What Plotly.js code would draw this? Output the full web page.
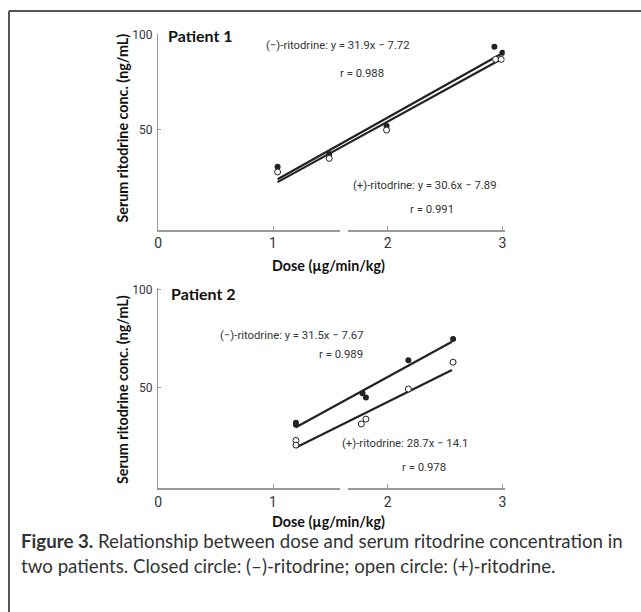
<!DOCTYPE html>
<html>
<head>
<meta charset="utf-8">
<script src="https://cdn.plot.ly/plotly-3.0.1.min.js"></script>
<style>html,body{margin:0;padding:0;background:#fff;}#chart{width:641px;height:612px;}</style>
</head>
<body>
<div id="chart"></div>
<script>
// ---- Data ----
const xTickVals = [0, 1, 2, 3];
const xTickText = ["0", "1", "2", "3"];
const yTickVals = [50, 100];
const yTickText = ["50", "100"];

// Patient 1
const p1DoseMinus = [1.04, 1.49, 1.99, 2.93, 3.0];
const p1ConcMinus = [30.2, 36.9, 51.7, 93.8, 90.6];
const p1DosePlus  = [1.04, 1.49, 1.99, 2.94, 2.99];
const p1ConcPlus  = [27.4, 34.6, 49.6, 87.1, 87.1];
const p1FitDose   = [1.04, 3.0];
const p1FitMinus  = [23.5, 90.3];
const p1FitPlus   = [22.0, 87.6];

// Patient 2
const p2DoseMinus = [1.2, 1.2, 1.78, 1.81, 2.18, 2.57];
const p2ConcMinus = [32.0, 31.0, 47.1, 45.0, 64.0, 74.9];
const p2DosePlus  = [1.2, 1.2, 1.77, 1.81, 2.18, 2.57];
const p2ConcPlus  = [23.0, 20.6, 31.4, 33.9, 49.3, 63.0];
const p2FitDose   = [1.2, 2.56];
const p2FitMinus  = [29.7, 73.5];
const p2FitPlus   = [19.4, 59.0];

const W = 641, H = 612;
const px = v => v / W;
const py = v => 1 - v / H;

const narrow = "Roboto, DejaVu Sans Condensed, sans-serif";
const human = "Lato, Open Sans, sans-serif";
const ink = "#222";

function closed(x, y, xa, ya) {
  return {x, y, xaxis: xa, yaxis: ya, type: "scatter", mode: "markers",
    marker: {size: 6, color: ink, symbol: "circle"}, hoverinfo: "skip", showlegend: false};
}
function open(x, y, xa, ya) {
  return {x, y, xaxis: xa, yaxis: ya, type: "scatter", mode: "markers",
    marker: {size: 6, color: "#fff", symbol: "circle", line: {color: ink, width: 1}}, hoverinfo: "skip", showlegend: false};
}
function fit(x, y, xa, ya) {
  return {x, y, xaxis: xa, yaxis: ya, type: "scatter", mode: "lines",
    line: {color: ink, width: 2.2}, hoverinfo: "skip", showlegend: false};
}

const data = [
  fit(p1FitDose, p1FitMinus, "x", "y"),
  fit(p1FitDose, p1FitPlus, "x", "y"),
  closed(p1DoseMinus, p1ConcMinus, "x", "y"),
  open(p1DosePlus, p1ConcPlus, "x", "y"),
  fit(p2FitDose, p2FitMinus, "x2", "y2"),
  fit(p2FitDose, p2FitPlus, "x2", "y2"),
  closed(p2DoseMinus, p2ConcMinus, "x2", "y2"),
  open(p2DosePlus, p2ConcPlus, "x2", "y2")
];

function xAxis(anchor, domain) {
  return {domain, anchor, range: [0, 3.02], showgrid: false, zeroline: false,
    showline: true, linecolor: "#999", linewidth: 1.5,
    tickvals: xTickVals, ticktext: xTickText, ticks: "inside", ticklen: 4, tickcolor: "#999",
    tickfont: {family: narrow, size: 14, color: "#333"}, fixedrange: true};
}
function yAxis(anchor, domain, range) {
  return {domain, anchor, range, showgrid: false, zeroline: false,
    showline: true, linecolor: "#999", linewidth: 1.5,
    tickvals: yTickVals, ticktext: yTickText, ticks: "inside", ticklen: 3, tickcolor: "#999",
    ticklabelstandoff: 2,
    tickfont: {family: narrow, size: 12, color: "#333"}, fixedrange: true};
}

const xDom = [px(158.3), px(504.7)];
const layout = {
  width: W, height: H,
  margin: {l: 0, r: 0, t: 0, b: 0},
  paper_bgcolor: "#fff", plot_bgcolor: "rgba(0,0,0,0)",
  showlegend: false,
  xaxis: xAxis("y", xDom),
  yaxis: yAxis("x", [py(230), py(34.1)], [-3.4, 100.5]),
  xaxis2: xAxis("y2", xDom),
  yaxis2: yAxis("x2", [py(488.3), py(288.3)], [-1.5, 100.8]),
  shapes: [
    {type: "line", xref: "paper", yref: "paper", x0: px(9), x1: 1, y0: py(11), y1: py(11), line: {color: "#555", width: 2}},
    {type: "line", xref: "paper", yref: "paper", x0: px(9), x1: px(9), y0: py(11), y1: 0, line: {color: "#555", width: 2}},
    {type: "rect", xref: "paper", yref: "paper", x0: px(340), x1: px(348), y0: py(233), y1: py(227), fillcolor: "#fff", line: {width: 0}, layer: "above"},
    {type: "rect", xref: "paper", yref: "paper", x0: px(340), x1: px(348), y0: py(491), y1: py(485), fillcolor: "#fff", line: {width: 0}, layer: "above"}
  ],
  annotations: []
};

function note(text, x, y, font, opts) {
  layout.annotations.push(Object.assign({text, xref: "paper", yref: "paper", x: px(x), y: py(y),
    xanchor: "center", yanchor: "middle", showarrow: false, borderpad: 0, font}, opts || {}));
}
const eqFont = {family: narrow, size: 11.3, color: "#333"};
const titleFont = {family: human, size: 14.3, color: "#111"};

// Panel 1
note("<b>Patient 1</b>", 200, 35, {family: human, size: 16, color: "#111"});
note("(−)-ritodrine: y = 31.9x − 7.72", 338, 46, eqFont);
note("r = 0.988", 362, 73, eqFont);
note("(+)-ritodrine: y = 30.6x − 7.89", 425, 185, eqFont);
note("r = 0.991", 432, 209, eqFont);
note("<b>Serum ritodrine conc. (ng/mL)</b>", 122, 128.5, titleFont, {textangle: -90});
note("<b>Dose (µg/min/kg)</b>", 328, 265, titleFont);

// Panel 2
note("<b>Patient 2</b>", 203, 293.5, {family: human, size: 16, color: "#111"});
note("(−)-ritodrine: y = 31.5x − 7.67", 292, 335, eqFont);
note("r = 0.989", 341, 354.5, eqFont);
note("(+)-ritodrine: 28.7x − 14.1", 404.5, 443.5, eqFont);
note("r = 0.978", 424, 468, eqFont);
note("<b>Serum ritodrine conc. (ng/mL)</b>", 122, 390, titleFont, {textangle: -90});
note("<b>Dose (µg/min/kg)</b>", 328, 521, titleFont);

// Caption
note("<b>Figure 3.</b> Relationship between dose and serum ritodrine concentration in", 20, 541,
  {family: human, size: 18.7, color: "#333"}, {xanchor: "left"});
note("two patients. Closed circle: (–)-ritodrine; open circle: (+)-ritodrine.", 20, 566,
  {family: human, size: 18.7, color: "#333"}, {xanchor: "left"});

Plotly.newPlot("chart", data, layout, {staticPlot: true, displayModeBar: false});
</script>
</body>
</html>
